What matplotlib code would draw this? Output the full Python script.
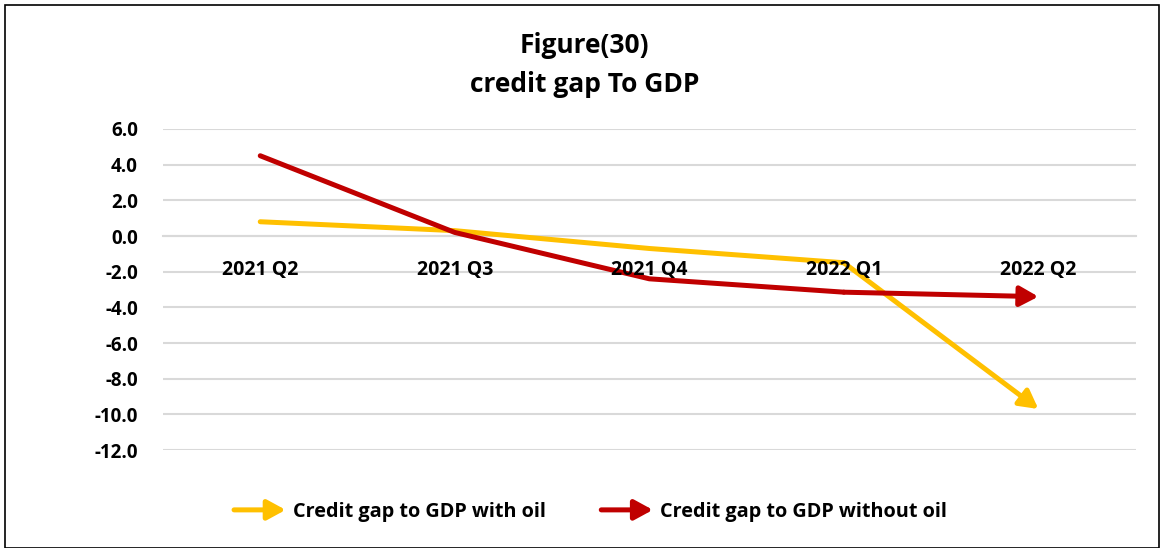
import matplotlib
matplotlib.use("Agg")
import matplotlib.pyplot as plt
from matplotlib.patches import FancyArrowPatch, Rectangle
from matplotlib.legend_handler import HandlerBase
from matplotlib.lines import Line2D

categories = ["2021 Q2", "2021 Q3", "2021 Q4", "2022 Q1", "2022 Q2"]
with_oil = [0.8, 0.3, -0.7, -1.5, -9.7]
without_oil = [4.5, 0.2, -2.4, -3.15, -3.4]
series_names = ["Credit gap to GDP with oil", "Credit gap to GDP without oil"]
colors = ["#FFC000", "#C00000"]
yticks = [6, 4, 2, 0, -2, -4, -6, -8, -10, -12]

plt.rcParams['font.family'] = ['Open Sans', 'DejaVu Sans']
plt.rcParams['font.weight'] = 'bold'

fig = plt.figure(figsize=(11.6, 5.48), dpi=100)
fig.patches.append(Rectangle((0.004, 0.0), 0.995, 0.99, transform=fig.transFigure,
                             fill=False, edgecolor='black', lw=1.2))
ax = fig.add_axes([0.1405, 0.1788, 0.8385, 0.5858])

ARROW = '-|>,head_length=0.55,head_width=0.3'
MS = 20
x = list(range(len(categories)))
for vals, c in zip([with_oil, without_oil], colors):
    ax.plot(x[:-1], vals[:-1], color=c, lw=3.6, solid_capstyle='round',
            solid_joinstyle='round', zorder=3)
    ax.annotate('', xy=(x[-1], vals[-1]), xytext=(x[-2], vals[-2]),
                arrowprops=dict(arrowstyle=ARROW, lw=3.6, color=c,
                                mutation_scale=MS, shrinkA=0, shrinkB=0),
                zorder=3)

ax.set_xlim(-0.5, len(categories) - 0.5)
ax.set_ylim(-12, 6)
ax.set_yticks(yticks)
ax.set_yticklabels([f"{v:.1f}" for v in yticks], fontsize=13.5, fontweight='bold')
ax.yaxis.grid(True, color='#D9D9D9', lw=1.5)
ax.set_axisbelow(True)
for s in ['left', 'right', 'top']:
    ax.spines[s].set_visible(False)
ax.spines['bottom'].set_position(('data', 0))
ax.spines['bottom'].set_color('#D9D9D9')
ax.spines['bottom'].set_linewidth(1.5)
ax.spines['bottom'].set_zorder(1)
ax.set_xticks(x)
ax.set_xticklabels(categories, fontsize=14, fontweight='bold')
ax.tick_params(axis='both', length=0)
ax.tick_params(axis='x', pad=17)
ax.tick_params(axis='y', pad=18)
ax.xaxis.set_zorder(3.5)

fig.text(0.504, 0.917, "Figure(30)", ha='center', va='center', fontsize=19, fontweight='bold')
fig.text(0.504, 0.845, "credit gap To GDP", ha='center', va='center', fontsize=19, fontweight='bold')


class ArrowHandler(HandlerBase):
    def create_artists(self, legend, orig_handle, xdescent, ydescent, width, height, fontsize, trans):
        c = orig_handle.get_color()
        y = height / 2 - ydescent
        a = FancyArrowPatch((-xdescent, y), (-xdescent + width, y),
                            arrowstyle=ARROW, lw=3.6,
                            color=c, mutation_scale=MS, shrinkA=0, shrinkB=0,
                            capstyle='round', transform=trans)
        return [a]


handles = [Line2D([], [], color=c) for c in colors]
leg = fig.legend(handles, series_names, loc='center', bbox_to_anchor=(0.509, 0.066),
                 ncol=2, frameon=False, fontsize=14.3, handler_map={Line2D: ArrowHandler()},
                 handlelength=2.6, handletextpad=0.35, columnspacing=2.8)
for t in leg.get_texts():
    t.set_fontweight('bold')

fig.savefig("out.png", dpi=100)
